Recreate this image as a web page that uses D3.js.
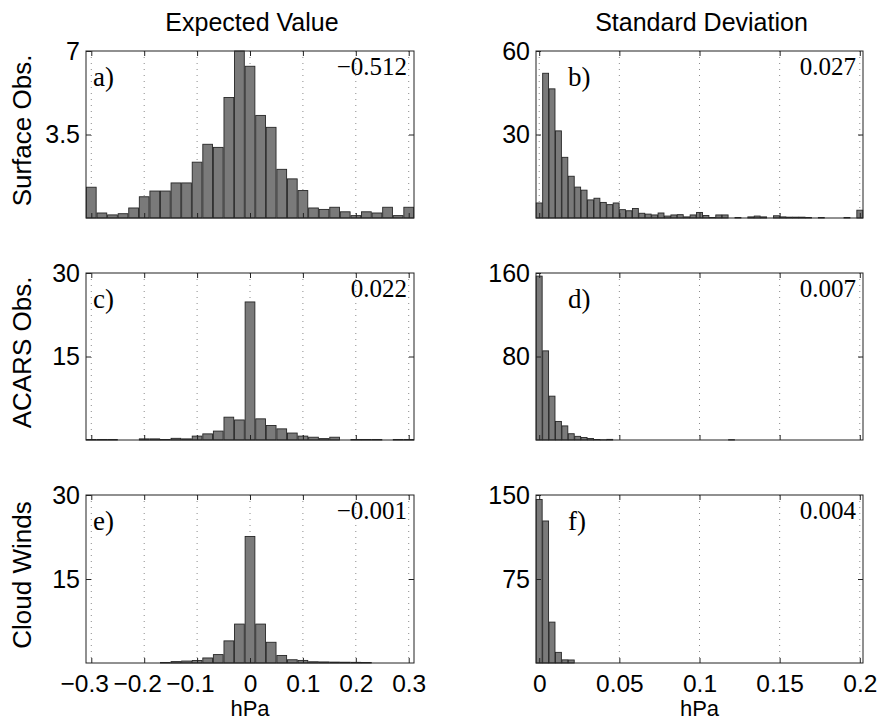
<!DOCTYPE html>
<html>
<head>
<meta charset="utf-8">
<script src="https://d3js.org/d3.v7.min.js"></script>
<style>
  body { margin: 0; background: #fff; }
</style>
</head>
<body>
<div id="chart"></div>
<script>
// bin centres (hPa)
const meanBins = [-0.30, -0.28, -0.26, -0.24, -0.22, -0.20, -0.18, -0.16, -0.14, -0.12, -0.10,
                  -0.08, -0.06, -0.04, -0.02, 0.00, 0.02, 0.04, 0.06, 0.08, 0.10,
                  0.12, 0.14, 0.16, 0.18, 0.20, 0.22, 0.24, 0.26, 0.28, 0.30];
const sdBins = [0, 0.004, 0.008, 0.012, 0.016, 0.020, 0.024, 0.028, 0.032, 0.036, 0.040,
                0.044, 0.048, 0.052, 0.056, 0.060, 0.064, 0.068, 0.072, 0.076, 0.080,
                0.084, 0.088, 0.092, 0.096, 0.100, 0.104, 0.108, 0.112, 0.116, 0.120,
                0.124, 0.128, 0.132, 0.136, 0.140, 0.144, 0.148, 0.152, 0.156, 0.160,
                0.164, 0.168, 0.172, 0.176, 0.180, 0.184, 0.188, 0.192, 0.196, 0.200];

// counts
const surfaceMean = [1.29, 0.21, 0.13, 0.18, 0.42, 0.89, 1.13, 1.13, 1.47, 1.47, 2.34,
                     3.09, 2.96, 5.05, 7.0, 6.36, 4.30, 3.80, 2.04, 1.64, 1.15,
                     0.42, 0.36, 0.45, 0.26, 0.10, 0.26, 0.21, 0.45, 0.10, 0.45];
const surfaceSd = [5.4, 52, 46.4, 31.3, 21.8, 15.0, 11.1, 10.0, 6.5, 7.1, 5.6,
                   4.8, 5.4, 3.0, 2.6, 3.4, 1.7, 1.4, 1.1, 1.8, 0.7,
                   1.1, 1.2, 0.4, 1.1, 2.0, 0.9, 0.2, 1.1, 1.1, 0,
                   0.2, 0, 0.4, 0.7, 0.4, 0, 0.8, 0.4, 0.3, 0.3,
                   0.3, 0.2, 0, 0.2, 0, 0, 0, 0.2, 0, 2.8];
const acarsMean = [0.1, 0.1, 0.1, 0, 0, 0.2, 0.2, 0.1, 0.3, 0.2, 0.7,
                   1.1, 1.6, 4.1, 3.6, 24.8, 3.8, 2.6, 2.0, 1.25, 0.7,
                   0.5, 0.25, 0.5, 0, 0.1, 0.1, 0.1, 0, 0.1, 0.1];
const acarsSd = [157, 85.4, 42, 17.8, 13.5, 6, 3.5, 2.4, 1.4, 0.5, 0.2,
                 0.6, 0, 0, 0, 0, 0, 0, 0, 0, 0,
                 0, 0, 0, 0, 0, 0, 0, 0, 0, 0.3,
                 0, 0, 0, 0, 0, 0, 0, 0, 0, 0,
                 0, 0, 0, 0, 0, 0, 0, 0, 0, 0];
const cloudMean = [0, 0, 0, 0, 0, 0, 0, 0.1, 0.25, 0.35, 0.45,
                   0.9, 1.5, 3.95, 6.95, 22.6, 6.95, 3.7, 1.35, 0.58, 0.46,
                   0.22, 0.19, 0.16, 0.14, 0.12, 0.1, 0, 0, 0, 0];
const cloudSd = [146, 126.8, 36.5, 9.5, 2.8, 2.7, 0, 0, 0, 0, 0,
                 0, 0, 0, 0, 0, 0, 0, 0, 0, 0,
                 0, 0, 0, 0, 0, 0, 0, 0, 0, 0,
                 0, 0, 0, 0, 0, 0, 0, 0, 0, 0,
                 0, 0, 0, 0, 0, 0, 0, 0, 0, 0];

const meanTicks = [-0.3, -0.2, -0.1, 0, 0.1, 0.2, 0.3];
const sdTicks = [0, 0.05, 0.1, 0.15, 0.2];
const yTops = [7, 60, 30, 160, 30, 150];
const yMids = [3.5, 30, 15, 80, 15, 75];
const panelTags = ["a)", "b)", "c)", "d)", "e)", "f)"];
const panelStats = ["\u22120.512", "0.027", "0.022", "0.007", "\u22120.001", "0.004"];
const rowNames = ["Surface Obs.", "ACARS Obs.", "Cloud Winds"];
const colTitles = ["Expected Value", "Standard Deviation"];

const counts = [surfaceMean, surfaceSd, acarsMean, acarsSd, cloudMean, cloudSd];

const W = 880, H = 721;
const cols = [[86, 414], [536, 863]];
const rows = [[51, 218], [273, 440], [495, 663]];
const sans = "'Liberation Sans', Arial, Helvetica, sans-serif";
const serif = "'Liberation Serif', 'Times New Roman', serif";

const svg = d3.select("#chart").append("svg")
    .attr("width", W).attr("height", H);

// column titles
colTitles.forEach((t, c) => {
    svg.append("text")
        .attr("x", (cols[c][0] + cols[c][1]) / 2 + 2)
        .attr("y", 31)
        .attr("text-anchor", "middle")
        .style("font-family", sans).style("font-size", "25px")
        .text(t);
});

// row labels
rowNames.forEach((t, r) => {
    svg.append("text")
        .attr("transform", `translate(31,${(rows[r][0] + rows[r][1]) / 2 - 4}) rotate(-90)`)
        .attr("text-anchor", "middle")
        .style("font-family", sans).style("font-size", "26px")
        .text(t);
});

for (let i = 0; i < 6; i++) {
    const r = Math.floor(i / 2), c = i % 2;
    const [x0, x1] = cols[c], [y0, y1] = rows[r];
    const bins = c === 0 ? meanBins : sdBins;
    const step = c === 0 ? 0.02 : 0.004;
    const xt = c === 0 ? meanTicks : sdTicks;

    const x = d3.scaleLinear()
        .domain([bins[0] - step / 2, bins[bins.length - 1] + step / 2])
        .range([x0, x1]);
    const y = d3.scaleLinear().domain([0, yTops[i]]).range([y1, y0]);

    const g = svg.append("g");

    // dotted grid at x ticks
    g.append("g").selectAll("line").data(xt).enter().append("line")
        .attr("x1", d => x(d)).attr("x2", d => x(d))
        .attr("y1", y0).attr("y2", y1)
        .attr("stroke", "#8a8a8a").attr("stroke-width", 1)
        .attr("stroke-dasharray", "1,5");

    // bars
    const data = bins.map((b, k) => ({ b: b, v: counts[i][k] })).filter(d => d.v > 0);
    const bw = x(step) - x(0);
    g.append("g").selectAll("rect").data(data).enter().append("rect")
        .attr("x", d => x(d.b) - bw * 0.46)
        .attr("width", bw * 0.92)
        .attr("y", d => y(d.v))
        .attr("height", d => y1 - y(d.v))
        .attr("fill", "#7a7a7a")
        .attr("stroke", "#262626")
        .attr("stroke-width", 0.9);

    // y axis labels + inward ticks
    const ya = g.append("g").attr("transform", `translate(${x0},0)`)
        .call(d3.axisLeft(y).tickValues([yMids[i], yTops[i]]).tickSize(-5).tickPadding(6)
            .tickFormat(d => String(d)));
    ya.select(".domain").remove();
    ya.selectAll("text").style("font-family", sans).style("font-size", "25px").attr("fill", "#000");
    ya.selectAll("line").attr("stroke", "#222");

    const yr = g.append("g").attr("transform", `translate(${x1},0)`)
        .call(d3.axisRight(y).tickValues([yMids[i]]).tickSize(-5).tickFormat(""));
    yr.select(".domain").remove();
    yr.selectAll("line").attr("stroke", "#222");

    // x axis ticks (labels only on bottom row)
    const xa = g.append("g").attr("transform", `translate(0,${y1})`)
        .call(d3.axisBottom(x).tickValues(xt).tickSize(-5).tickPadding(12)
            .tickFormat(r === 2 ? (d => d < 0 ? "\u2212" + Math.abs(d) : String(d)) : ""));
    xa.select(".domain").remove();
    xa.selectAll("line").attr("stroke", "#222");
    xa.selectAll("text").style("font-family", sans).style("font-size", "24.5px").attr("fill", "#000")
        .attr("dx", d => d < 0 ? "-0.29em" : 0);

    const xtop = g.append("g").attr("transform", `translate(0,${y0})`)
        .call(d3.axisTop(x).tickValues(xt).tickSize(-5).tickFormat(""));
    xtop.select(".domain").remove();
    xtop.selectAll("line").attr("stroke", "#222");

    // box
    g.append("rect")
        .attr("x", x0).attr("y", y0)
        .attr("width", x1 - x0).attr("height", y1 - y0)
        .attr("fill", "none").attr("stroke", "#222").attr("stroke-width", 1);

    // panel tag and statistic
    g.append("text")
        .attr("x", c === 0 ? x0 + 7 : x0 + 32)
        .attr("y", y0 + 35)
        .style("font-family", serif).style("font-size", "27px")
        .text(panelTags[i]);
    g.append("text")
        .attr("x", x1 - 7)
        .attr("y", y0 + 24)
        .attr("text-anchor", "end")
        .style("font-family", serif).style("font-size", "25px")
        .text(panelStats[i]);

    if (r === 2) {
        svg.append("text")
            .attr("x", (x0 + x1) / 2)
            .attr("y", 716)
            .attr("text-anchor", "middle")
            .style("font-family", sans).style("font-size", "22px")
            .text("hPa");
    }
}
</script>
</body>
</html>
